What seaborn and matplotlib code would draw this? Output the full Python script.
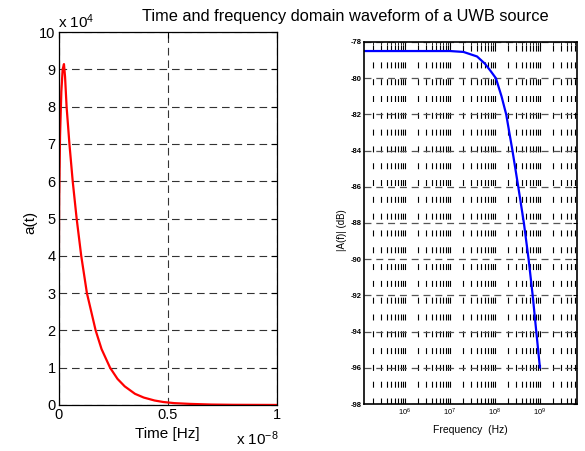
import numpy as np
import pandas as pd
import matplotlib
matplotlib.use("Agg")
import matplotlib.pyplot as plt
import seaborn as sns
from matplotlib.ticker import FixedLocator, LogLocator, NullFormatter

# ---------------- data ----------------
# Time domain pulse (time in units of 1e-8 s, amplitude in units of 1e4)
time_e8 = [0.0, 0.001, 0.003, 0.007, 0.013, 0.019, 0.025, 0.030, 0.037, 0.050,
           0.065, 0.083, 0.104, 0.130, 0.170, 0.197, 0.236, 0.270, 0.303, 0.350,
           0.390, 0.440, 0.480, 0.530, 0.600, 0.700, 0.800, 1.000]
amp_e4 = [0.0, 3.0, 5.5, 7.2, 8.4, 9.0, 9.14, 8.8, 8.0, 7.0,
          6.0, 5.0, 4.0, 3.0, 2.0, 1.5, 1.0, 0.7, 0.5, 0.3,
          0.2, 0.12, 0.08, 0.05, 0.03, 0.012, 0.005, 0.001]

# Frequency domain magnitude
freq_hz = [1.26e5, 1e6, 1e7, 2e7, 4e7, 6e7, 8e7, 1.05e8, 1.4e8, 1.78e8,
           2.45e8, 3.3e8, 4.4e8, 5.6e8, 6.9e8, 8.3e8, 1e9]
mag_db = [-78.5, -78.5, -78.5, -78.55, -78.8, -79.2, -79.6, -80.0, -81.0, -82.0,
          -84.0, -86.0, -88.0, -90.0, -92.0, -94.0, -96.0]

left_yticks = list(range(0, 11))
left_xticks = [0, 0.5, 1]
right_yticks = list(range(-98, -77, 2))
right_xticks = [1e6, 1e7, 1e8, 1e9]

title = "Time and frequency domain waveform of a UWB source"

# ---------------- style ----------------
sns.set_style("white")
plt.rcParams["font.family"] = ["Liberation Sans", "DejaVu Sans"]
plt.rcParams["mathtext.fontset"] = "custom"
plt.rcParams["mathtext.rm"] = "Liberation Sans"
plt.rcParams["mathtext.it"] = "Liberation Sans"
plt.rcParams["mathtext.bf"] = "Liberation Sans:bold"
plt.rcParams["lines.scale_dashes"] = False
plt.rcParams["text.color"] = "black"
plt.rcParams["axes.labelcolor"] = "black"
plt.rcParams["xtick.color"] = "black"
plt.rcParams["ytick.color"] = "black"

fig = plt.figure(figsize=(5.85, 4.51), dpi=100)
fig.patch.set_facecolor("white")

# ---------------- left axes ----------------
ax1 = fig.add_axes([0.1, 0.102, 0.3735, 0.827])
df1 = pd.DataFrame({"t": time_e8, "a": amp_e4})
sns.lineplot(data=df1, x="t", y="a", ax=ax1, color="red", lw=1.6,
             sort=False, estimator=None)
ax1.set_xlim(0, 1)
ax1.set_ylim(0, 10)
ax1.xaxis.set_major_locator(FixedLocator(left_xticks))
ax1.yaxis.set_major_locator(FixedLocator(left_yticks))
ax1.set_xticklabels(["0", "0.5", "1"])
ax1.set_yticklabels([str(v) for v in left_yticks])
ax1.tick_params(direction="in", length=4, width=0.8, labelsize=10.5,
                top=True, right=True, colors="black", pad=2)
ax1.grid(True, which="major", color="#333333", lw=0.8,
         linestyle=(0, (5.5, 3.5)))
for s in ax1.spines.values():
    s.set_color("black")
    s.set_linewidth(0.9)
    s.set_visible(True)
ax1.set_xlabel("")
ax1.set_ylabel("")

fig.text(30 / 585, 1 - 222 / 451, "a(t)", rotation=90, ha="center",
         va="center", fontsize=11)
fig.text(167 / 585, 1 - 434 / 451, "Time [Hz]", ha="center", va="center",
         fontsize=11)
fig.text(236 / 585, 1 - 445 / 451, r"x 10$^{-8}$", ha="left",
         va="baseline", fontsize=11)
fig.text(58 / 585, 1 - 28 / 451, r"x 10$^{4}$", ha="left",
         va="baseline", fontsize=11)

# ---------------- right axes ----------------
ax2 = fig.add_axes([0.623, 0.1042, 0.363, 0.8027])
df2 = pd.DataFrame({"f": freq_hz, "m": mag_db})
sns.lineplot(data=df2, x="f", y="m", ax=ax2, color="#0000ff", lw=1.6,
             sort=False, estimator=None)
ax2.set_xscale("log")
ax2.set_xlim(1.26e5, 6.6e9)
ax2.set_ylim(-98, -78)
ax2.xaxis.set_major_locator(FixedLocator(right_xticks))
ax2.xaxis.set_minor_locator(LogLocator(base=10, subs=np.arange(2, 10), numticks=20))
ax2.xaxis.set_minor_formatter(NullFormatter())
ax2.set_xticklabels([r"10$^{6}$", r"10$^{7}$", r"10$^{8}$", r"10$^{9}$"])
ax2.yaxis.set_major_locator(FixedLocator(right_yticks))
ax2.set_yticklabels([str(v) for v in right_yticks], fontweight="bold")
ax2.tick_params(axis="both", which="major", labelsize=5.5, direction="in",
                length=3, width=0.8, top=True, right=True, pad=2)
ax2.tick_params(axis="both", which="minor", direction="in", length=2,
                width=0.6, top=True, right=True)
ax2.grid(True, which="both", axis="x", color="black", lw=0.8,
         linestyle=(0, (4.3, 7.8)))
ax2.grid(True, which="major", axis="y", color="#555555", lw=0.9,
         linestyle=(0, (5.0, 3.5)))
for s in ax2.spines.values():
    s.set_color("black")
    s.set_linewidth(1.2)
    s.set_visible(True)
ax2.set_xlabel("")
ax2.set_ylabel("")

fig.text(342 / 585, 1 - 230 / 451, "|A(f)| (dB)", rotation=90, ha="center",
         va="center", fontsize=7)
fig.text(470 / 585, 1 - 430 / 451, "Frequency  (Hz)", ha="center",
         va="center", fontsize=7.5)

fig.text(345 / 585, 1 - 17 / 451, title, ha="center", va="center",
         fontsize=11.8)

fig.savefig("out.png", dpi=100, facecolor="white")
